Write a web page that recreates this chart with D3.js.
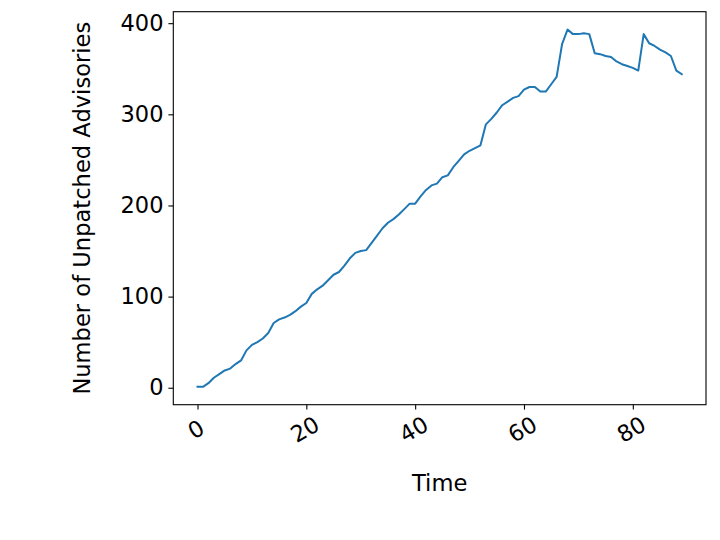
<!DOCTYPE html>
<html>
<head>
<meta charset="utf-8">
<script src="https://cdn.jsdelivr.net/npm/d3@7"></script>
<style>
  body { margin: 0; background: #fff; }
</style>
</head>
<body>
<div id="container"></div>
<script>
// number of unpatched advisories per time step (x = index)
const advisories = [
  1, 1, 5, 11, 15, 19, 21, 26, 30, 41,
  47, 50, 54, 60, 71, 75, 77, 80, 84, 89,
  93, 103, 108, 112, 118, 124, 127, 134, 142, 148,
  150, 151, 159, 167, 175, 181, 185, 190, 196, 202,
  202, 210, 217, 222, 224, 231, 233, 242, 249, 256,
  260, 263, 266, 289, 295, 302, 310, 314, 318, 320,
  327, 330, 330, 325, 325, 333, 341, 377, 393, 388,
  388, 389, 388, 367, 366, 364, 363, 358, 355, 353,
  351, 348, 388, 378, 375, 371, 368, 364, 348, 344
]
const xTicks = [0, 20, 40, 60, 80]
const yTicks = [0, 100, 200, 300, 400]
const xLabel = "Time"
const yLabel = "Number of Unpatched Advisories"

const FONT = "DejaVu Sans"
const width = 720
const height = 540
const margin = { top: 11.7, right: 14, bottom: 135.3, left: 173.3 }

// matplotlib style 5% padding on each side
const n = advisories.length - 1
const yMin = d3.min(advisories), yMax = d3.max(advisories)
const x = d3.scaleLinear()
  .domain([-0.05 * n, n * 1.05])
  .range([margin.left, width - margin.right])
const y = d3.scaleLinear()
  .domain([yMin - 0.05 * (yMax - yMin), yMax + 0.05 * (yMax - yMin)])
  .range([height - margin.bottom, margin.top])

const svg = d3.select("#container").append("svg")
  .attr("width", width)
  .attr("height", height)
  .attr("font-family", FONT)

// x axis
const gx = svg.append("g")
  .attr("transform", `translate(0,${height - margin.bottom})`)
  .call(d3.axisBottom(x).tickValues(xTicks).tickSize(4.9).tickPadding(0).tickSizeOuter(0))
  .attr("font-family", FONT)
  .attr("font-size", 22.5)
gx.select(".domain").remove()
gx.selectAll(".tick line").attr("stroke", "#000").attr("stroke-width", 1.1)
gx.selectAll(".tick text")
  .attr("y", 0)
  .attr("dy", null)
  .attr("fill", "#000")
  .attr("text-anchor", "middle")
  .attr("dominant-baseline", "central")
  .attr("transform", "translate(-2,24.5) rotate(-30)")

// y axis
const gy = svg.append("g")
  .attr("transform", `translate(${margin.left},0)`)
  .call(d3.axisLeft(y).tickValues(yTicks).tickSize(4.9).tickPadding(4.9).tickSizeOuter(0))
  .attr("font-family", FONT)
  .attr("font-size", 22.5)
gy.select(".domain").remove()
gy.selectAll(".tick line").attr("stroke", "#000").attr("stroke-width", 1.1)
gy.selectAll(".tick text").attr("fill", "#000")

// the line
const line = d3.line()
  .x((d, i) => x(i))
  .y(d => y(d))

svg.append("path")
  .datum(advisories)
  .attr("fill", "none")
  .attr("stroke", "#1f77b4")
  .attr("stroke-width", 2)
  .attr("stroke-linejoin", "round")
  .attr("stroke-linecap", "square")
  .attr("d", line)

// frame
svg.append("rect")
  .attr("x", margin.left)
  .attr("y", margin.top)
  .attr("width", width - margin.right - margin.left)
  .attr("height", height - margin.bottom - margin.top)
  .attr("fill", "none")
  .attr("stroke", "#000")
  .attr("stroke-width", 1.1)

// axis labels
svg.append("text")
  .attr("x", (margin.left + width - margin.right) / 2)
  .attr("y", 490.7)
  .attr("text-anchor", "middle")
  .attr("font-size", 22.6)
  .text(xLabel)

svg.append("text")
  .attr("transform", `translate(90,${(margin.top + height - margin.bottom) / 2}) rotate(-90)`)
  .attr("text-anchor", "middle")
  .attr("font-size", 22.6)
  .text(yLabel)
</script>
</body>
</html>
